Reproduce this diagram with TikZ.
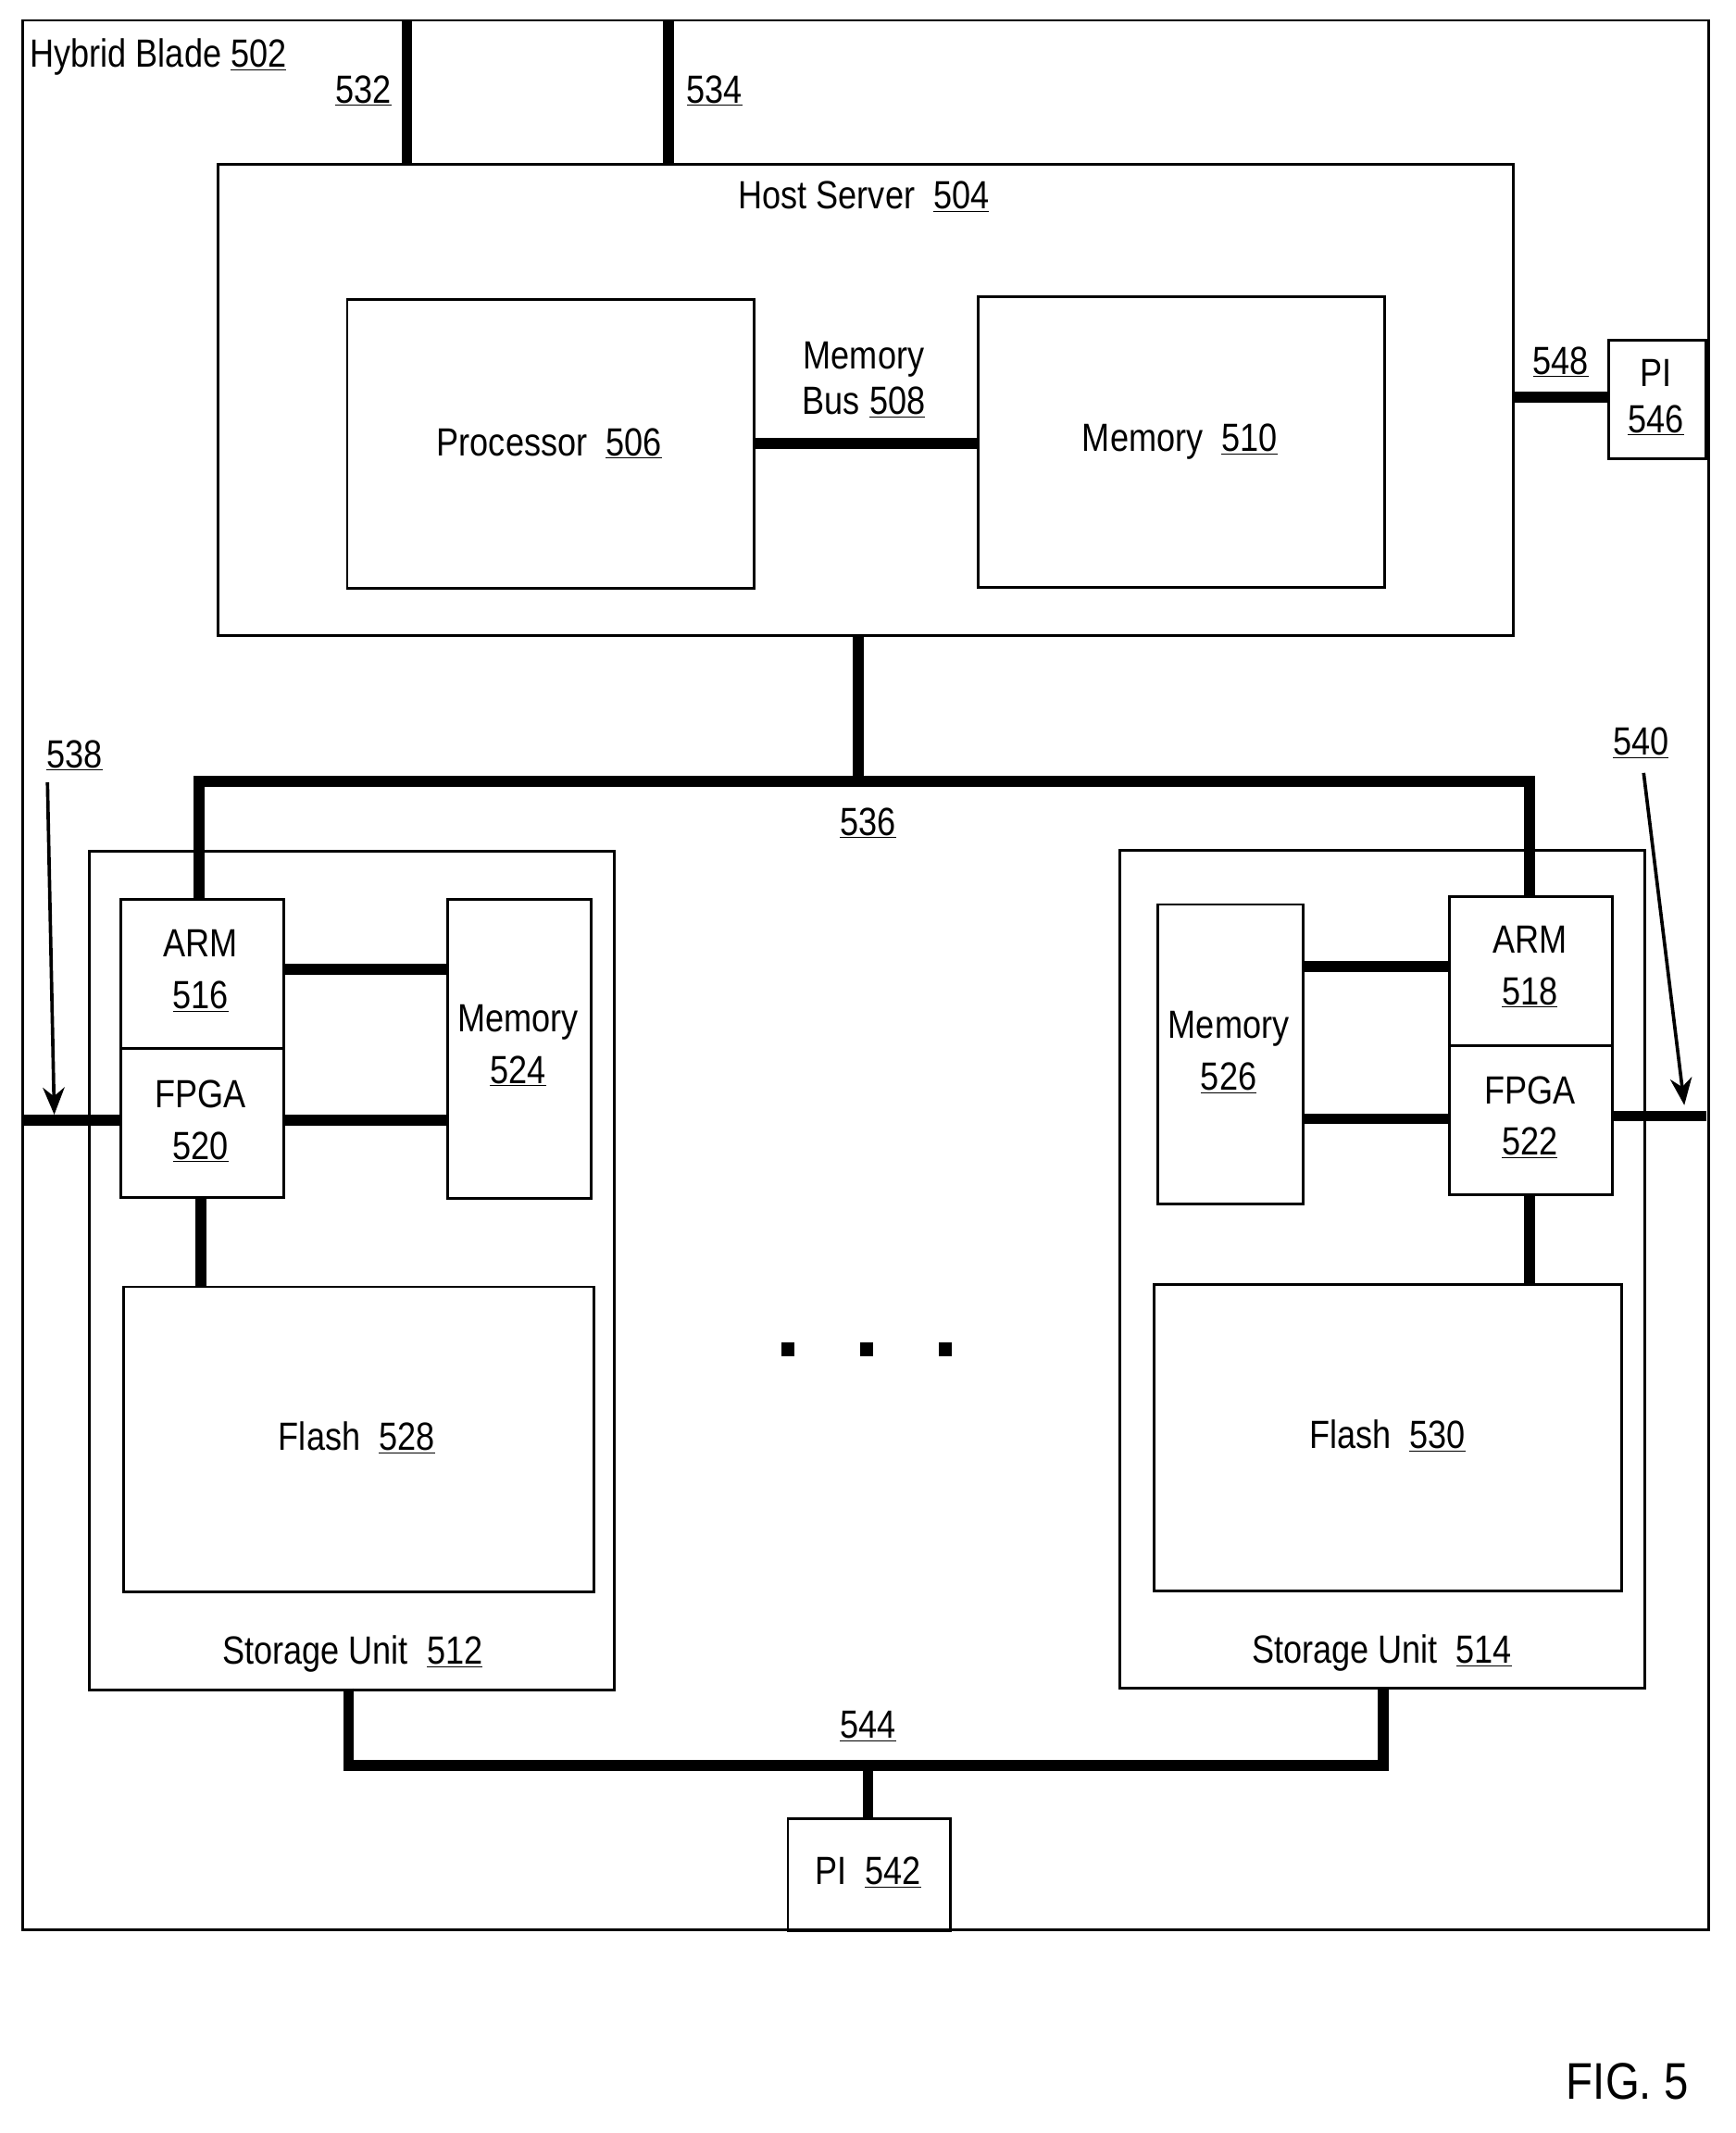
\documentclass[tikz,border=0pt]{standalone}
\usepackage{fontspec}
\setmainfont{Liberation Sans}[FakeStretch=0.85]
\usetikzlibrary{arrows.meta}
\newcommand{\un}[1]{\underline{#1}}
\begin{document}
\begin{tikzpicture}[x=1pt,y=-1pt,
  box/.style={draw,line width=2pt},
  bus/.style={line width=8pt},
  lbl/.style={font=\fontsize{29}{34}\selectfont,align=center,inner sep=0pt},
  arr/.style={line width=2.5pt,-{Stealth[length=20pt,width=16pt]}}]
\useasboundingbox (0,0) rectangle (1280,1573);
% outer
\draw[box] (17,15) rectangle (1260,1423);
\node[lbl,anchor=west] (t502) at (22,42) {Hybrid Blade \un{502}};
% host
\node[box,minimum width=955pt,minimum height=348pt,anchor=north west] (host) at (160,120) {};
\node[lbl] (t504) at (637,145) {Host Server\ \ \un{504}};
\node[box,minimum width=300pt,minimum height=213pt,anchor=north west] (proc) at (255,220) {};
\node[lbl] at (405,327) {Processor\ \ \un{506}};
\node[box,minimum width=300pt,minimum height=214pt,anchor=north west] (mem510) at (720,218) {};
\node[lbl] at (870,326) {Memory\ \ \un{510}};
\draw[bus] (555,327) -- (720,327);
\node[lbl] at (637,280) {Memory\\Bus \un{508}};
% 532 534
\coordinate (c532) at (300,15); \coordinate (c534) at (493,15);
\draw[bus] (c532) -- (300,120);
\draw[bus] (c534) -- (493,120);
\node[lbl] at (268,67) {\un{532}};
\node[lbl] at (527,67) {\un{534}};
% PI 546
\node[box,minimum width=72pt,minimum height=87pt,anchor=north west] (pi546) at (1185,250) {};
\node[lbl] at (1221,293) {PI\\\un{546}};
\draw[bus] (1115,293) -- (1185,293);
\node[lbl] at (1151,267) {\un{548}};
% bus 536
\draw[bus] (633,468) -- (633,576);
\draw[bus] (147,662) -- (147,576) -- (1128,576) -- (1128,660);
\node[lbl] at (640,607) {\un{536}};
% storage 512
\node[box,minimum width=387pt,minimum height=618pt,anchor=north west] (su512) at (65,627) {};
\node[lbl] at (260,1220) {Storage Unit\ \ \un{512}};
\node[box,minimum width=120pt,minimum height=110pt,anchor=north west] (arm516) at (88,662) {};
\node[lbl] at (148,716) {ARM\\[4pt]\un{516}};
\node[box,minimum width=120pt,minimum height=110pt,anchor=north west] (fpga520) at (88,772) {};
\node[lbl] at (148,827) {FPGA\\[4pt]\un{520}};
\node[box,minimum width=106pt,minimum height=221pt,anchor=north west] (mem524) at (329,662) {};
\node[lbl] at (382,771) {Memory\\[4pt]\un{524}};
\draw[bus] (208,715) -- (329,715);
\draw[bus] (208,826) -- (329,826);
\node[box,minimum width=347pt,minimum height=225pt,anchor=north west] (fl528) at (90,948) {};
\node[lbl] at (263,1060) {Flash\ \ \un{528}};
\draw[bus] (148,882) -- (148,948);
\draw[bus] (17,826) -- (88,826);
\coordinate (a538) at (35,577);
\draw[arr] (a538) -- (40,822);
\node[lbl] at (55,557) {\un{538}};
% storage 514
\node[box,minimum width=387pt,minimum height=618pt,anchor=north west] (su514) at (825,626) {};
\node[lbl] at (1019,1219) {Storage Unit\ \ \un{514}};
\node[box,minimum width=120pt,minimum height=110pt,anchor=north west] (arm518) at (1068,660) {};
\node[lbl] at (1128,713) {ARM\\[4pt]\un{518}};
\node[box,minimum width=120pt,minimum height=110pt,anchor=north west] (fpga522) at (1068,770) {};
\node[lbl] at (1128,824) {FPGA\\[4pt]\un{522}};
\node[box,minimum width=107pt,minimum height=221pt,anchor=north west] (mem526) at (853,666) {};
\node[lbl] at (906,776) {Memory\\[4pt]\un{526}};
\draw[bus] (960,713) -- (1068,713);
\draw[bus] (960,825) -- (1068,825);
\node[box,minimum width=345pt,minimum height=226pt,anchor=north west] (fl530) at (850,946) {};
\node[lbl] at (1023,1059) {Flash\ \ \un{530}};
\draw[bus] (1128,880) -- (1128,946);
\draw[bus] (1188,823) -- (1258,823);
\coordinate (a540) at (1212,570);
\draw[arr] (a540) -- (1242,815);
\node[lbl] at (1210,548) {\un{540}};
% dots
\foreach \x in {581,639,697} \fill (\x-5,990) rectangle (\x+5,1000);
% bus 544
\draw[bus] (257,1245) -- (257,1302) -- (1020,1302) -- (1020,1244);
\draw[bus] (640,1302) -- (640,1340);
\node[lbl] at (640,1273) {\un{544}};
\node[box,minimum width=120pt,minimum height=83pt,anchor=north west] (pi542) at (580,1340) {};
\node[lbl] at (640,1381) {PI\ \ \un{542}};
\node[lbl,font=\fontsize{38}{42}\selectfont] at (1200,1535) {FIG. 5};
\end{tikzpicture}
\end{document}
